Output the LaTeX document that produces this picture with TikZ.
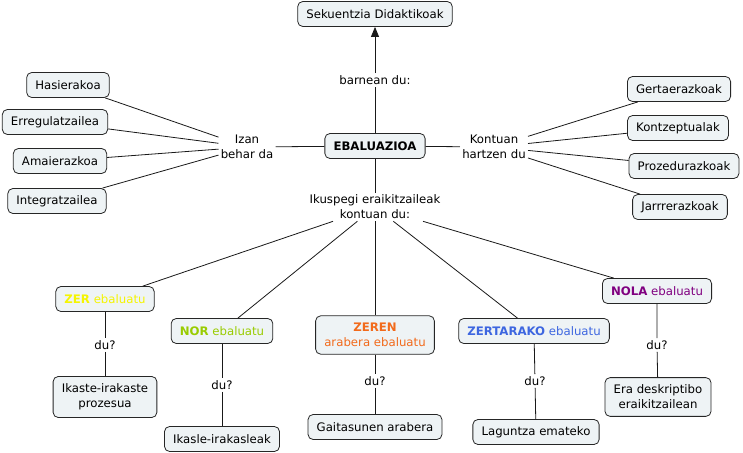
\documentclass[tikz,border=0pt]{standalone}
\usepackage{fontspec}
\setmainfont{DejaVu Sans}
\usetikzlibrary{arrows.meta}
\definecolor{boxfill}{HTML}{EEF3F5}
\definecolor{zercol}{HTML}{F5F500}
\definecolor{norcol}{HTML}{99CC00}
\definecolor{zerencol}{HTML}{F26A1B}
\definecolor{zertacol}{HTML}{3D66E0}
\definecolor{nolacol}{HTML}{800080}

\begin{document}
\begin{tikzpicture}[x=0.75pt, y=-0.75pt, font=\fontsize{8.8}{11.25}\selectfont,
    concept/.style={draw=black!85, fill=boxfill, rounded corners=3.8pt, line width=0.6pt,
      inner xsep=6.5pt, inner ysep=3pt, minimum height=18.75pt, align=center},
    twoline/.style={concept, inner ysep=5.5pt},
    phrase/.style={inner sep=1.5pt, align=center},
    link/.style={draw=black!90, line width=0.6pt}]
        \useasboundingbox (0,0) rectangle (743,453);
        % centre
        \node[concept, font=\fontsize{8.8}{11.25}\selectfont\bfseries] (EBA) at (375,146) {EBALUAZIOA};
        \node[concept] (SEK) at (375,14) {Sekuentzia Didaktikoak};
        \node[phrase] (BAR) at (375,80) {barnean du:};
        \node[phrase] (IZAN) at (247,147) {Izan\\behar da};
        \node[phrase] (KONT) at (494,147) {Kontuan\\hartzen du};
        \node[phrase] (IKUS) at (375,207) {Ikuspegi eraikitzaileak\\kontuan du:};
        % ezkerra
        \node[concept] (HAS) at (68,85) {Hasierakoa};
        \node[concept] (ERR) at (55,122) {Erregulatzailea};
        \node[concept] (AMA) at (60,161) {Amaierazkoa};
        \node[concept] (INT) at (57,201) {Integratzailea};
        % eskuina
        \node[concept] (GER) at (679,89) {Gertaerazkoak};
        \node[concept] (KON) at (678,128) {Kontzeptualak};
        \node[concept] (PRO) at (684,166) {Prozedurazkoak};
        \node[concept] (JAR) at (680,207) {Jarrrerazkoak};
        % behea
        \node[concept, text=zercol] (ZER) at (105,299) {\textbf{ZER} ebaluatu};
        \node[concept, text=norcol] (NOR) at (222,331) {\textbf{NOR} ebaluatu};
        \node[twoline, text=zerencol] (ZEREN) at (375,335) {\textbf{ZEREN}\\arabera ebaluatu};
        \node[concept, text=zertacol] (ZERTA) at (534,331) {\textbf{ZERTARAKO} ebaluatu};
        \node[concept, text=nolacol] (NOLA) at (657,291) {\textbf{NOLA} ebaluatu};
        \node[phrase] (DUa) at (105,345) {du?};
        \node[phrase] (DUb) at (222,385) {du?};
        \node[phrase] (DUc) at (375,381) {du?};
        \node[phrase] (DUd) at (535,381) {du?};
        \node[phrase] (DUe) at (657,345) {du?};
        \node[twoline] (IKA) at (105,397) {Ikaste-irakaste\\prozesua};
        \node[concept] (IKL) at (222,439) {Ikasle-irakasleak};
        \node[concept] (GAI) at (375,427) {Gaitasunen arabera};
        \node[concept] (LAG) at (536,432) {Laguntza emateko};
        \node[twoline] (ERA) at (658,397) {Era deskriptibo\\eraikitzailean};

        \draw[link] (EBA) -- (BAR);
        \draw[link, -{Triangle[width=6pt,length=7.5pt]}] (BAR) -- (SEK);
        \draw[link] (EBA) -- (IZAN);
        \draw[link] (EBA) -- (KONT);
        \draw[link] (EBA) -- (IKUS);
        \foreach \n in {HAS, ERR, AMA, INT}
          \draw[link] (IZAN) -- (\n);
        \foreach \n in {GER, KON, PRO, JAR}
          \draw[link] (KONT) -- (\n);
        \foreach \n in {ZER, NOR, ZEREN, ZERTA, NOLA}
          \draw[link] (IKUS) -- (\n);
        \draw[link] (ZER) -- (DUa) -- (IKA);
        \draw[link] (NOR) -- (DUb) -- (IKL);
        \draw[link] (ZEREN) -- (DUc) -- (GAI);
        \draw[link] (ZERTA) -- (DUd) -- (LAG);
        \draw[link] (NOLA) -- (DUe) -- (ERA);
\end{tikzpicture}
\end{document}
